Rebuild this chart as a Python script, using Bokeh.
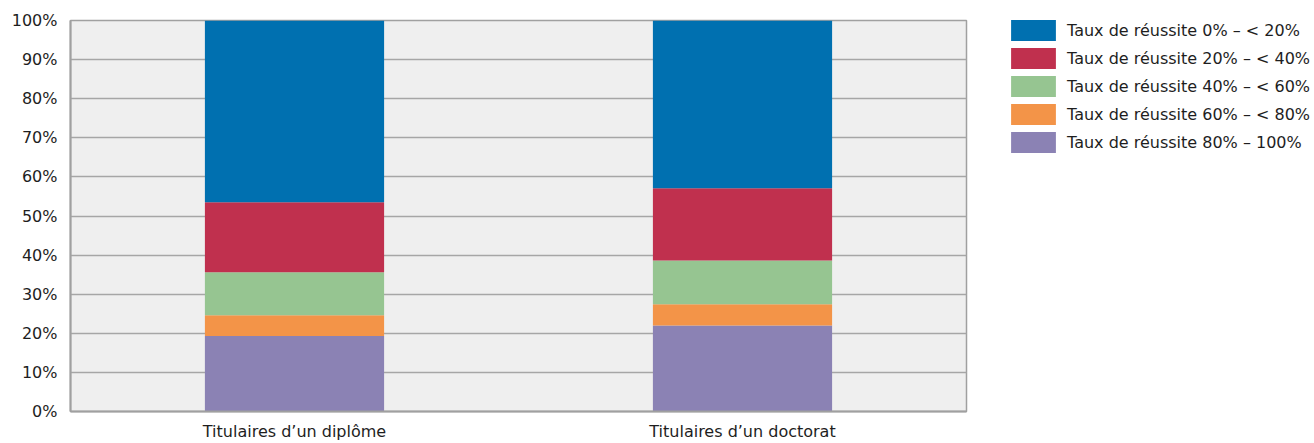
from bokeh.plotting import figure
from bokeh.models import FixedTicker, NumeralTickFormatter, Legend, LegendItem, ColumnDataSource
from bokeh.embed import file_html
from bokeh.resources import INLINE

categories = ["Titulaires d\u2019un dipl\u00f4me", "Titulaires d\u2019un doctorat"]
series_names = [
    "Taux de r\u00e9ussite 80% \u2013 100%",
    "Taux de r\u00e9ussite 60% \u2013 < 80%",
    "Taux de r\u00e9ussite 40% \u2013 < 60%",
    "Taux de r\u00e9ussite 20% \u2013 < 40%",
    "Taux de r\u00e9ussite 0% \u2013 < 20%",
]
s80_100 = [0.193, 0.220]
s60_80 = [0.053, 0.054]
s40_60 = [0.110, 0.112]
s20_40 = [0.179, 0.185]
s0_20 = [0.465, 0.429]
colors = ["#8b82b4", "#f39448", "#96c591", "#c0304e", "#0070b0"]
y_ticks = [0, 0.1, 0.2, 0.3, 0.4, 0.5, 0.6, 0.7, 0.8, 0.9, 1.0]

keys = ["s80_100", "s60_80", "s40_60", "s20_40", "s0_20"]
source = ColumnDataSource(dict(cat=categories, s80_100=s80_100, s60_80=s60_80,
                               s40_60=s40_60, s20_40=s20_40, s0_20=s0_20))

FONT = "DejaVu Sans"
FS = "16px"
TXT = "#1e1e1e"
p = figure(x_range=categories, y_range=(0, 1), frame_width=896, frame_height=391,
           output_backend="svg", toolbar_location=None,
           min_border_left=70, min_border_top=20, min_border_bottom=32, min_border_right=340)
p.background_fill_color = "#efefef"
p.border_fill_color = "white"
p.outline_line_color = "#a0a0a0"
p.outline_line_width = 1.5
p.x_range.range_padding = 0

renderers = p.vbar_stack(keys, x="cat", width=0.40, color=colors, source=source, line_width=0)

p.yaxis.ticker = FixedTicker(ticks=y_ticks)
p.yaxis.formatter = NumeralTickFormatter(format="0%")
p.yaxis.axis_line_color = "#a0a0a0"
p.yaxis.axis_line_width = 2
p.yaxis.major_tick_line_color = None
p.yaxis.minor_tick_line_color = None
p.yaxis.major_tick_out = 0
p.yaxis.minor_tick_out = 0
p.yaxis.major_label_standoff = 13
p.yaxis.major_label_text_font = FONT
p.yaxis.major_label_text_font_size = FS
p.yaxis.major_label_text_color = TXT

p.xaxis.axis_line_color = "#a0a0a0"
p.xaxis.axis_line_width = 2
p.xaxis.major_tick_line_color = None
p.xaxis.minor_tick_line_color = None
p.xaxis.major_tick_out = 0
p.xaxis.minor_tick_out = 0
p.xaxis.major_label_standoff = 10
p.xaxis.major_label_text_font = FONT
p.xaxis.major_label_text_font_size = FS
p.xaxis.major_label_text_color = TXT

p.xgrid.grid_line_color = None
p.ygrid.grid_line_color = "#a6a6a6"
p.ygrid.grid_line_width = 1.5
p.ygrid.ticker = FixedTicker(ticks=y_ticks)

items = [LegendItem(label=series_names[i], renderers=[renderers[i]]) for i in reversed(range(5))]
legend = Legend(items=items, location=(39, 256), glyph_width=56, glyph_height=26,
                label_standoff=6, spacing=2, padding=0, margin=0,
                label_text_font=FONT, label_text_font_size=FS, label_text_color=TXT,
                border_line_alpha=0, background_fill_alpha=0, label_height=26)
p.add_layout(legend, "right")

open("out.html", "w").write(file_html(p, INLINE))
